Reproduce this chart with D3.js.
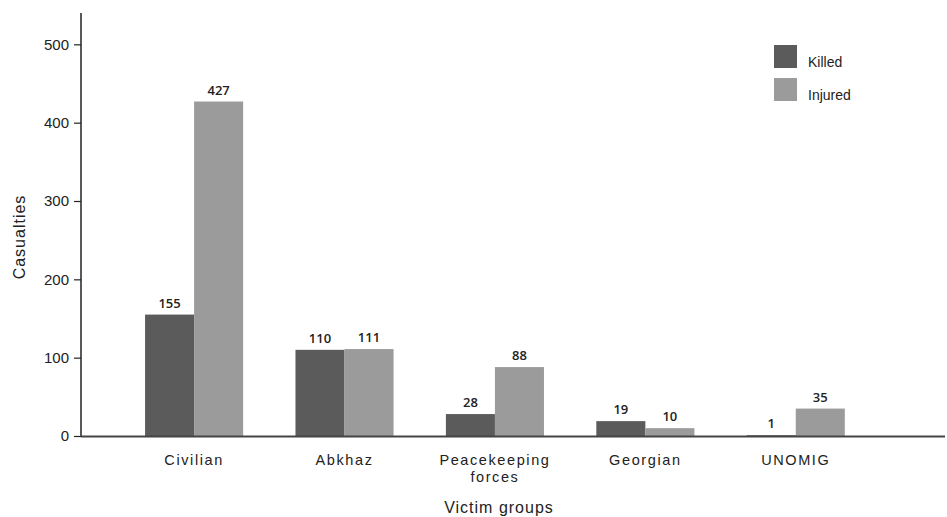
<!DOCTYPE html>
<html>
<head>
<meta charset="utf-8">
<script src="https://cdn.jsdelivr.net/npm/d3@7"></script>
<style>
  html, body { margin: 0; padding: 0; background: #fff; }
  svg { display: block; }
  .tick text { font-family: "Liberation Sans", Arial, sans-serif; font-size: 15px; fill: #222; }
  .cat { font-family: "Liberation Sans", Arial, sans-serif; font-size: 14.5px; fill: #222; letter-spacing: 1.6px; }
  .val { font-family: "Open Sans", "Liberation Sans", sans-serif; font-size: 13px; font-weight: 600; fill: #222; }
  .title { font-family: "Liberation Sans", Arial, sans-serif; font-size: 16px; fill: #222; letter-spacing: 1px; }
  .leg { font-family: "Liberation Sans", Arial, sans-serif; font-size: 14px; fill: #222; }
</style>
</head>
<body>
<svg id="chart" width="947" height="517"></svg>
<script>
// Casualties by victim group
const categories = ["Civilian", "Abkhaz", "Peacekeeping forces", "Georgian", "UNOMIG"];
const seriesNames = ["Killed", "Injured"];
const killed  = [155, 110, 28, 19, 1];
const injured = [427, 111, 88, 10, 35];
const yTicks  = [0, 100, 200, 300, 400, 500];
const colors  = ["#5b5b5b", "#9b9b9b"];

const rows = categories.map((c, i) => ({ cat: c, values: [killed[i], injured[i]] }));

const svg = d3.select("#chart");
const plotLeft = 81, plotRight = 945, plotTop = 13, plotBottom = 436;

const x0 = d3.scaleBand()
  .domain(categories)
  .range([plotLeft, plotRight])
  .paddingInner(0.348)
  .paddingOuter(0.546)
  .align(0.39);

const x1 = d3.scaleBand()
  .domain(seriesNames)
  .range([0, x0.bandwidth()]);

const y = d3.scaleLinear().domain([0, 540]).range([plotBottom, plotTop]);
const color = d3.scaleOrdinal().domain(seriesNames).range(colors);

// Bars
const groups = svg.append("g")
  .selectAll("g")
  .data(rows)
  .join("g")
  .attr("transform", d => `translate(${x0(d.cat)},0)`);

groups.selectAll("rect")
  .data(d => d.values.map((v, k) => ({ key: seriesNames[k], value: v })))
  .join("rect")
  .attr("x", d => x1(d.key))
  .attr("width", x1.bandwidth())
  .attr("y", d => y(d.value))
  .attr("height", d => y(0) - y(d.value))
  .attr("fill", d => color(d.key));

// Value labels
groups.selectAll("text")
  .data(d => d.values.map((v, k) => ({ key: seriesNames[k], value: v })))
  .join("text")
  .attr("class", "val")
  .attr("x", d => x1(d.key) + x1.bandwidth() / 2)
  .attr("y", d => y(d.value) - 7)
  .attr("text-anchor", "middle")
  .text(d => d.value);

// Y axis
const yAxis = svg.append("g")
  .attr("transform", `translate(${plotLeft},0)`)
  .call(d3.axisLeft(y).tickValues(yTicks).tickSize(7).tickPadding(5));
yAxis.select(".domain").remove();
yAxis.selectAll(".tick line").attr("stroke", "#222").attr("stroke-width", 1.2);

svg.append("line")
  .attr("x1", plotLeft).attr("x2", plotLeft)
  .attr("y1", plotTop).attr("y2", plotBottom + 1)
  .attr("stroke", "#222").attr("stroke-width", 1.5);

// X axis baseline
svg.append("line")
  .attr("x1", plotLeft).attr("x2", plotRight)
  .attr("y1", plotBottom + 0.5).attr("y2", plotBottom + 0.5)
  .attr("stroke", "#444").attr("stroke-width", 2);

// Category labels (wrapped onto two lines where needed)
svg.append("g")
  .selectAll("text")
  .data(categories)
  .join("text")
  .attr("class", "cat")
  .attr("text-anchor", "middle")
  .attr("x", d => x0(d) + x0.bandwidth() / 2)
  .attr("y", 465)
  .each(function (d) {
    const words = d.split(" ");
    const t = d3.select(this);
    words.forEach((w, i) => {
      t.append("tspan")
        .attr("x", x0(d) + x0.bandwidth() / 2)
        .attr("dy", i === 0 ? 0 : 16.5)
        .text(w);
    });
  });

// Axis titles
svg.append("text")
  .attr("class", "title")
  .attr("text-anchor", "middle")
  .attr("x", (x0.range()[0] + x0.range()[1]) / 2 - 14)
  .attr("y", 513)
  .text("Victim groups");

svg.append("text")
  .attr("class", "title")
  .attr("text-anchor", "middle")
  .attr("transform", "translate(25,237) rotate(-90)")
  .text("Casualties");

// Legend
const legend = svg.append("g").attr("transform", "translate(774,45)");
const li = legend.selectAll("g")
  .data(seriesNames)
  .join("g")
  .attr("transform", (d, i) => `translate(0,${i * 33})`);
li.append("rect").attr("width", 23).attr("height", 23).attr("fill", d => color(d));
li.append("text").attr("class", "leg").attr("x", 34).attr("y", 22).text(d => d);
</script>
</body>
</html>
